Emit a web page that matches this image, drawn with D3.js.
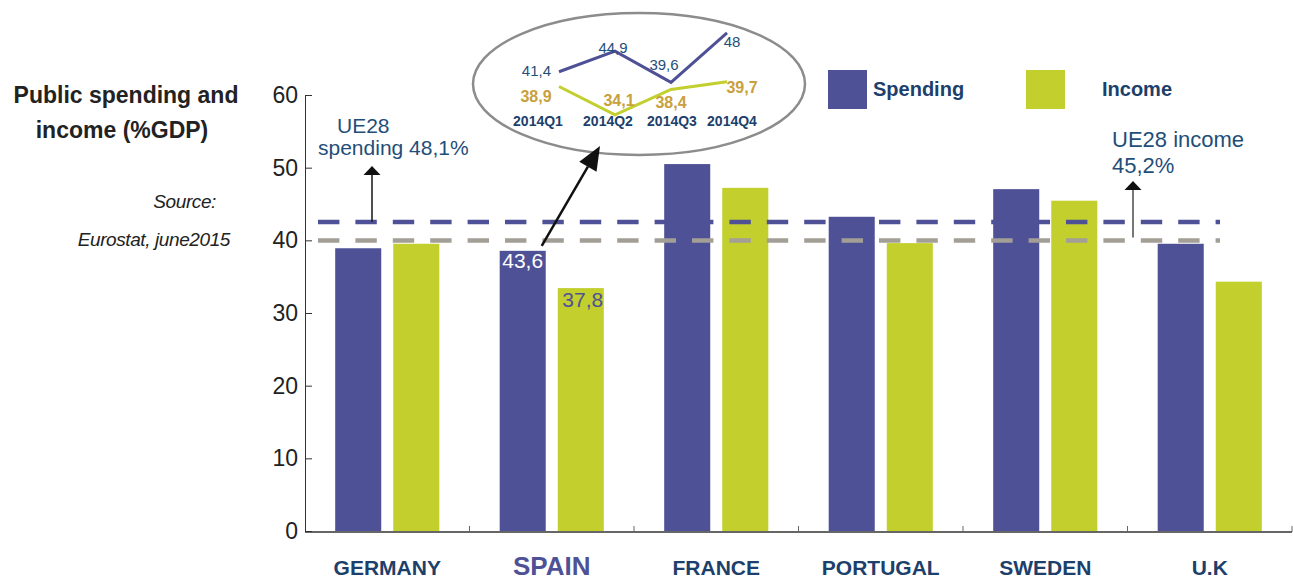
<!DOCTYPE html>
<html>
<head>
<meta charset="utf-8">
<script src="https://cdn.jsdelivr.net/npm/d3@7"></script>
<style>
  html, body { margin: 0; padding: 0; background: #fff; }
  svg { display: block; font-family: Arial, "Liberation Sans", sans-serif; }
</style>
</head>
<body>
<svg id="chart" width="1293" height="580"></svg>
<script>
// Public spending and income as % of GDP, by country (2014)
const categories = ["GERMANY", "SPAIN", "FRANCE", "PORTUGAL", "SWEDEN", "U.K"];
const spending = [44.0, 43.6, 57.1, 48.9, 53.2, 44.7];
const income = [44.7, 37.8, 53.4, 44.8, 51.4, 38.8];
const yTicks = [0, 10, 20, 30, 40, 50, 60];
const ue28Spending = 48.1;
const ue28Income = 45.2;

// Spain, quarterly detail
const quarters = ["2014Q1", "2014Q2", "2014Q3", "2014Q4"];
const quarterSpending = [41.4, 44.9, 39.6, 48];
const quarterIncome = [38.9, 34.1, 38.4, 39.7];

const fmt = v => String(v).replace(".", ",");

const C = {
  spend: "#4f5196",
  inc: "#c2cf2d",
  navy: "#1d3f6b",
  blueText: "#1f4e79",
  gold: "#c8a03c",
  grayDash: "#a39e96",
  axis: "#333"
};

const svg = d3.select("#chart");

const plot = { left: 305, right: 1292, top: 95, bottom: 531 };

// Category bands and the two bars inside each band
const x0 = d3.scaleBand().domain(categories).range([plot.left, plot.right]);
const x1 = d3.scaleBand().domain(["spending", "income"])
  .range([0, x0.bandwidth()]).paddingInner(0.207).paddingOuter(0.52);

// Printed axis scale and the scale the bars are drawn with
const yAxisScale = d3.scaleLinear().domain([0, 60]).range([plot.bottom, plot.top]);
const yBar = d3.scaleLinear().domain([0, 67.85]).range([plot.bottom, plot.top]);

const rows = categories.map((c, i) => ({ c, spending: spending[i], income: income[i] }));

// Bars
const groups = svg.append("g").selectAll("g").data(rows).join("g")
  .attr("transform", d => `translate(${x0(d.c)},0)`);
groups.append("rect")
  .attr("x", x1("spending")).attr("width", x1.bandwidth())
  .attr("y", d => yBar(d.spending)).attr("height", d => yBar(0) - yBar(d.spending))
  .attr("fill", C.spend);
groups.append("rect")
  .attr("x", x1("income")).attr("width", x1.bandwidth())
  .attr("y", d => yBar(d.income)).attr("height", d => yBar(0) - yBar(d.income))
  .attr("fill", C.inc);

// Spain value labels
const spain = rows[categories.indexOf("SPAIN")];
svg.append("text")
  .attr("x", x0("SPAIN") + x1("spending") + x1.bandwidth() / 2)
  .attr("y", yBar(spain.spending) + 17)
  .attr("text-anchor", "middle").attr("font-size", 21).attr("fill", "#fff")
  .text(fmt(spain.spending));
svg.append("text")
  .attr("x", x0("SPAIN") + x1("income") + x1.bandwidth() / 2 + 2)
  .attr("y", yBar(spain.income) + 19)
  .attr("text-anchor", "middle").attr("font-size", 21).attr("fill", C.spend)
  .text(fmt(spain.income));

// UE28 reference lines (drawn over the bars)
const dashLine = (v, color) => svg.append("line")
  .attr("x1", plot.left).attr("x2", 1220)
  .attr("y1", yBar(v)).attr("y2", yBar(v))
  .attr("stroke", color).attr("stroke-width", 4.5)
  .attr("stroke-dasharray", "21.4,16").attr("stroke-dashoffset", 24.4);
dashLine(ue28Spending, C.spend);
dashLine(ue28Income, C.grayDash);

// Y axis
const yAxis = svg.append("g").attr("transform", `translate(${plot.left},0)`)
  .call(d3.axisLeft(yAxisScale).tickValues(yTicks).tickSize(-7).tickSizeOuter(0).tickPadding(7));
yAxis.select(".domain").attr("stroke", C.axis);
yAxis.selectAll(".tick line").attr("stroke", C.axis);
yAxis.selectAll(".tick text").attr("font-size", 23).attr("fill", "#222")
  .attr("font-family", "Arial, 'Liberation Sans', sans-serif");

// X baseline and band boundary ticks
svg.append("line").attr("x1", plot.left).attr("x2", plot.right)
  .attr("y1", plot.bottom + 1).attr("y2", plot.bottom + 1)
  .attr("stroke", C.axis).attr("stroke-width", 1.6);
svg.append("g").selectAll("line").data(categories).join("line")
  .attr("x1", d => x0(d) + x0.bandwidth()).attr("x2", d => x0(d) + x0.bandwidth())
  .attr("y1", plot.bottom - 5).attr("y2", plot.bottom + 1)
  .attr("stroke", "#666").attr("stroke-width", 1);

// Category labels
svg.append("g").selectAll("text").data(categories).join("text")
  .attr("x", d => x0(d) + x0.bandwidth() / 2)
  .attr("y", 575)
  .attr("text-anchor", "middle")
  .attr("font-weight", "bold")
  .attr("font-size", d => d === "SPAIN" ? 26 : 21)
  .attr("fill", d => d === "SPAIN" ? C.spend : C.navy)
  .text(d => d);

// Axis title and source
const title = svg.append("text").attr("font-weight", "bold").attr("font-size", 23)
  .attr("fill", "#222").attr("text-anchor", "middle");
title.append("tspan").attr("x", 126).attr("y", 103).text("Public spending and");
title.append("tspan").attr("x", 122).attr("y", 138).text("income (%GDP)");
const src = svg.append("text").attr("font-style", "italic").attr("font-size", 19)
  .attr("font-family", "'Liberation Sans Narrow', Arial, sans-serif")
  .attr("fill", "#222").attr("text-anchor", "end").attr("letter-spacing", -0.4);
src.append("tspan").attr("x", 216).attr("y", 208).text("Source:");
src.append("tspan").attr("x", 230).attr("y", 246).text("Eurostat, june2015");

// UE28 annotations
const arrowUp = (x, yFrom, yTip, shaft) => {
  svg.append("line").attr("x1", x).attr("x2", x).attr("y1", yFrom).attr("y2", yTip + 8)
    .attr("stroke", shaft).attr("stroke-width", 1.6);
  svg.append("path").attr("d", `M${x - 8.5},${yTip + 9}L${x},${yTip}L${x + 8.5},${yTip + 9}Z`)
    .attr("fill", "#111");
};
arrowUp(372, yBar(ue28Spending), 166, "#222");
arrowUp(1133, yBar(ue28Income) - 3, 181, "#555");

const ueL = svg.append("text").attr("font-size", 21).attr("fill", C.blueText);
ueL.append("tspan").attr("x", 337).attr("y", 133).text("UE28");
ueL.append("tspan").attr("x", 318).attr("y", 155).text(`spending ${fmt(ue28Spending)}%`);
const ueR = svg.append("text").attr("font-size", 22).attr("fill", C.blueText);
ueR.append("tspan").attr("x", 1112).attr("y", 147).text("UE28 income");
ueR.append("tspan").attr("x", 1112).attr("y", 173).text(`${fmt(ue28Income)}%`);

// Legend
const legend = [["Spending", C.spend, 828, 873], ["Income", C.inc, 1026, 1102]];
legend.forEach(([name, color, sx, tx]) => {
  svg.append("rect").attr("x", sx).attr("y", 70).attr("width", 39).attr("height", 39).attr("fill", color);
  svg.append("text").attr("x", tx).attr("y", 96).attr("font-size", 20).attr("font-weight", "bold")
    .attr("fill", C.navy).text(name);
});

// Quarterly inset inside an ellipse
svg.append("ellipse").attr("cx", 639).attr("cy", 84).attr("rx", 166).attr("ry", 71)
  .attr("fill", "#fff").attr("stroke", "#8c8c8c").attr("stroke-width", 2.5);

const xq = d3.scalePoint().domain(quarters).range([559, 727]);
const yq = d3.scaleLinear().domain([30, 50]).range([139, 21]);
const qLine = d3.line().x((d, i) => xq(quarters[i])).y(d => yq(d));

svg.append("path").datum(quarterSpending).attr("d", qLine)
  .attr("fill", "none").attr("stroke", C.spend).attr("stroke-width", 3);
svg.append("path").datum(quarterIncome).attr("d", qLine)
  .attr("fill", "none").attr("stroke", C.inc).attr("stroke-width", 3);

const spendOff = [[-8, 4, "end"], [-2, 2, "middle"], [-7, -12, "middle"], [5, 14, "middle"]];
const incOff = [[-23, 16], [4, -9], [0, 19], [15, 11]];
const qOff = [-21, -7, 1, 5];

svg.append("g").selectAll("text").data(quarterSpending).join("text")
  .attr("x", (d, i) => xq(quarters[i]) + spendOff[i][0])
  .attr("y", (d, i) => yq(d) + spendOff[i][1])
  .attr("text-anchor", (d, i) => spendOff[i][2])
  .attr("font-size", 15).attr("fill", C.blueText).text(fmt);
svg.append("g").selectAll("text").data(quarterIncome).join("text")
  .attr("x", (d, i) => xq(quarters[i]) + incOff[i][0])
  .attr("y", (d, i) => yq(d) + incOff[i][1])
  .attr("text-anchor", "middle").attr("font-weight", "bold")
  .attr("font-size", 16).attr("fill", C.gold).text(fmt);
svg.append("g").selectAll("text").data(quarters).join("text")
  .attr("x", (d, i) => xq(d) + qOff[i]).attr("y", 126)
  .attr("text-anchor", "middle").attr("font-weight", "bold")
  .attr("font-size", 14).attr("fill", C.navy).text(d => d);

// Pointer from the Spain bar to the inset
const tail = [x0("SPAIN") + x1("spending") + x1.bandwidth() - 4, yBar(spain.spending) - 5];
const tip = [600, 146];
const ang = Math.atan2(tip[1] - tail[1], tip[0] - tail[0]);
const headLen = 24, headW = 10;
const base = [tip[0] - headLen * Math.cos(ang), tip[1] - headLen * Math.sin(ang)];
svg.append("line").attr("x1", tail[0]).attr("y1", tail[1]).attr("x2", base[0]).attr("y2", base[1])
  .attr("stroke", "#111").attr("stroke-width", 2.5);
svg.append("path")
  .attr("d", `M${tip[0]},${tip[1]}L${base[0] + headW * Math.sin(ang)},${base[1] - headW * Math.cos(ang)}L${base[0] - headW * Math.sin(ang)},${base[1] + headW * Math.cos(ang)}Z`)
  .attr("fill", "#111");
</script>
</body>
</html>
